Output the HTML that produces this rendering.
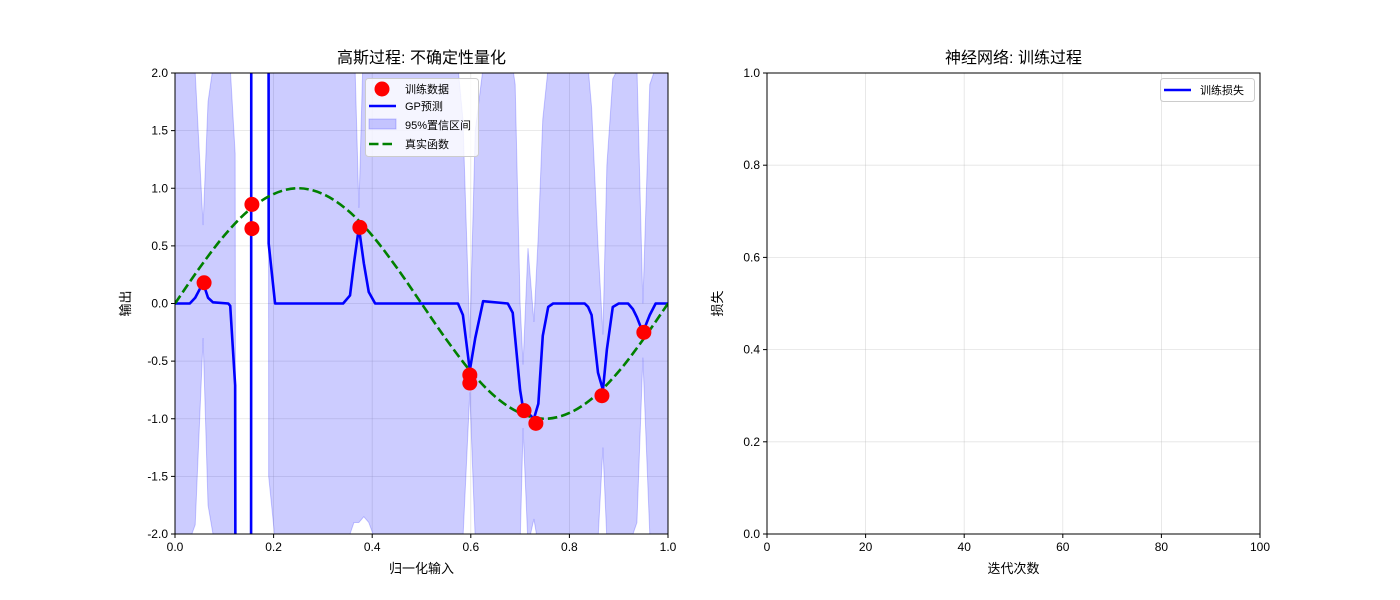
<!DOCTYPE html>
<html><head><meta charset="utf-8"><style>
html,body{margin:0;padding:0;background:#fff;overflow:hidden;width:1400px;height:600px;}
svg{display:block;}
svg text{font-family:"Liberation Sans","Noto Sans CJK SC",sans-serif;fill:#000;}
</style></head><body>
<svg id="fig" width="1400" height="600" viewBox="0 0 1400 600" xmlns="http://www.w3.org/2000/svg">
<defs>
<clipPath id="clipL"><rect x="175" y="73" width="493" height="461"/></clipPath>
</defs>
<rect width="1400" height="600" fill="#fff"/>
<g id="left"></g>
<g id="right"></g>
</svg>
<script>
// ---- GP chart data ----
const gpX =    [0,0.03,0.041,0.057,0.067,0.077,0.108,0.112,0.122,0.131,0.152,0.157,0.187,0.19,0.203,0.341,0.355,0.363,0.373,0.383,0.393,0.406,0.574,0.584,0.598,0.609,0.625,0.675,0.685,0.69,0.7,0.706,0.716,0.728,0.737,0.746,0.757,0.767,0.831,0.838,0.845,0.858,0.868,0.876,0.888,0.9,0.919,0.929,0.937,0.949,0.963,0.975,1];
const gpMean = [0,0,0.05,0.18,0.05,0.01,0,-0.02,-0.71,-30,-30,30,30,0.52,0,0,0.07,0.35,0.66,0.35,0.1,0,0,-0.1,-0.58,-0.3,0.02,0,-0.08,-0.3,-0.75,-0.91,-0.95,-1.0,-0.87,-0.28,-0.03,0,0,-0.03,-0.1,-0.6,-0.75,-0.4,-0.03,0,0,-0.05,-0.12,-0.25,-0.1,0,0];
const gpUpper =[2.05,2.05,2.0,0.68,1.75,2.05,2.05,2.05,1.3,-28,-28,32,32,2.5,2.05,2.05,2.1,2.4,0.83,2.4,2.1,2.05,2.05,1.6,-0.3,1.5,2.05,2.05,2.05,1.9,0.0,-0.53,0.48,-0.16,0.6,1.6,2.05,2.05,2.05,2.05,1.7,0.5,-0.27,1.2,1.95,2.05,2.05,2.05,2.05,0.0,1.9,2.05,2.05];
const gpLower =[-2.05,-2.05,-1.92,-0.3,-1.75,-2.0,-2.05,-2.1,-2.7,-32,-32,28,28,-1.5,-2.05,-2.05,-2.0,-1.9,-1.9,-1.85,-1.9,-2.05,-2.05,-2.05,-0.77,-2.05,-2.05,-2.05,-2.05,-2.1,-2.1,-1.08,-2.1,-1.87,-2.1,-2.1,-2.05,-2.05,-2.05,-2.05,-2.05,-2.05,-1.25,-2.05,-2.05,-2.05,-2.05,-2.0,-1.9,-0.47,-2.0,-2.05,-2.05];
const trainX = [0.059,0.156,0.156,0.375,0.598,0.598,0.708,0.732,0.866,0.951];
const trainY = [0.18,0.86,0.65,0.66,-0.62,-0.69,-0.93,-1.04,-0.80,-0.25];
const trueX = [0,0.05,0.1,0.15,0.2,0.25,0.3,0.35,0.4,0.45,0.5,0.55,0.6,0.65,0.7,0.75,0.8,0.85,0.9,0.95,1];
const trueY = [0,0.31,0.59,0.81,0.95,1,0.95,0.81,0.59,0.31,0,-0.31,-0.59,-0.81,-0.95,-1,-0.95,-0.81,-0.59,-0.31,0];
const leftXTicks = [0,0.2,0.4,0.6,0.8,1.0];
const leftXTickLabels = ["0.0","0.2","0.4","0.6","0.8","1.0"];
const leftYTicks = [2,1.5,1,0.5,0,-0.5,-1,-1.5,-2];
const leftYTickLabels = ["2.0","1.5","1.0","0.5","0.0","-0.5","-1.0","-1.5","-2.0"];
// ---- NN chart data ----
const rightXTicks = [0,20,40,60,80,100];
const rightYTicks = [0,0.2,0.4,0.6,0.8,1.0];
const rightYTickLabels = ["0.0","0.2","0.4","0.6","0.8","1.0"];

const NS="http://www.w3.org/2000/svg";
function mk(parent,tag,attrs,text){const e=document.createElementNS(NS,tag);for(const k in attrs)e.setAttribute(k,attrs[k]);if(text!==undefined)e.textContent=text;parent.appendChild(e);return e;}

const L={x0:175,x1:668,y0:534,y1:73};
const lx=v=>L.x0+(v-0)/(1-0)*(L.x1-L.x0);
const ly=v=>L.y0-(v+2)/4*(L.y0-L.y1);
const R={x0:767,x1:1260,y0:534,y1:73};
const rx=v=>R.x0+v/100*(R.x1-R.x0);
const ry=v=>R.y0-v*(R.y0-R.y1);

const gL=document.getElementById('left');
const gR=document.getElementById('right');

function axesFrame(g,A,xt,xf,yt,yf,prefix){
  xt.forEach((t,i)=>{const e=mk(g,'line',{x1:xf(t),x2:xf(t),y1:A.y0,y2:A.y1,stroke:'#b0b0b0','stroke-opacity':0.35,'stroke-width':0.8});
    
    });
  yt.forEach((t,i)=>{const e=mk(g,'line',{x1:A.x0,x2:A.x1,y1:yf(t),y2:yf(t),stroke:'#b0b0b0','stroke-opacity':0.35,'stroke-width':0.8});
    
    });
}
function axesTicks(g,A,xt,xl,xf,yt,yl,yf,title,xlabel,ylabel,prefix,cx){
  const fr=mk(g,'rect',{x:A.x0,y:A.y1,width:A.x1-A.x0,height:A.y0-A.y1,fill:'none',stroke:'#000','stroke-width':1});
  
  
  xt.forEach((t,i)=>{
    mk(g,'line',{x1:xf(t),x2:xf(t),y1:A.y0,y2:A.y0+4,stroke:'#000','stroke-width':1});
    const e=mk(g,'text',{x:xf(t),y:A.y0+17,'text-anchor':'middle','font-size':12},xl[i]);
    
    
  });
  yt.forEach((t,i)=>{
    mk(g,'line',{x1:A.x0-4,x2:A.x0,y1:yf(t),y2:yf(t),stroke:'#000','stroke-width':1});
    const e=mk(g,'text',{x:A.x0-7,y:yf(t)+4,'text-anchor':'end','font-size':12},yl[i]);
    
    
  });
  let e=mk(g,'text',{x:cx,y:63,'text-anchor':'middle','font-size':16},title);
  
  
  e=mk(g,'text',{x:cx,y:573,'text-anchor':'middle','font-size':13},xlabel);
  
  
  const yc=(A.y0+A.y1)/2;
  e=mk(g,'text',{x:A.x0-45,y:yc,'text-anchor':'middle','font-size':13,transform:`rotate(-90 ${A.x0-45} ${yc})`},ylabel);
  
  
}

// ---- Left chart ----
axesFrame(gL,L,leftXTicks,lx,leftYTicks,ly,'gp');
const clipG=mk(gL,'g',{'clip-path':'url(#clipL)'});


let bp='';
gpX.forEach((x,i)=>{bp+=(i?'L':'M')+lx(x).toFixed(2)+','+ly(gpUpper[i]).toFixed(2);});
for(let i=gpX.length-1;i>=0;i--){bp+='L'+lx(gpX[i]).toFixed(2)+','+ly(gpLower[i]).toFixed(2);}
bp+='Z';
const band=mk(clipG,'path',{d:bp,fill:'#0000ff','fill-opacity':0.2,stroke:'#0000ff','stroke-opacity':0.2,'stroke-width':1});


let mp='';
gpX.forEach((x,i)=>{mp+=(i?'L':'M')+lx(x).toFixed(2)+','+ly(gpMean[i]).toFixed(2);});
const mline=mk(clipG,'path',{d:mp,fill:'none',stroke:'#0000ff','stroke-width':2.6,'stroke-linejoin':'round'});


const tp=trueX.map((x,i)=>[lx(x),ly(trueY[i])]);
let td='M'+tp[0][0]+','+tp[0][1];
for(let i=0;i<tp.length-1;i++){
  const p0=tp[Math.max(0,i-1)],p1=tp[i],p2=tp[i+1],p3=tp[Math.min(tp.length-1,i+2)];
  const c1=[p1[0]+(p2[0]-p0[0])/6,p1[1]+(p2[1]-p0[1])/6];
  const c2=[p2[0]-(p3[0]-p1[0])/6,p2[1]-(p3[1]-p1[1])/6];
  td+=`C${c1[0].toFixed(2)},${c1[1].toFixed(2)} ${c2[0].toFixed(2)},${c2[1].toFixed(2)} ${p2[0].toFixed(2)},${p2[1].toFixed(2)}`;
}
const tline=mk(clipG,'path',{d:td,fill:'none',stroke:'#008000','stroke-width':2.6,'stroke-dasharray':'9.5,4'});


trainX.forEach((x,i)=>{
  const c=mk(gL,'circle',{cx:lx(x),cy:ly(trainY[i]),r:7.5,fill:'#ff0000'});
  
  
});
axesTicks(gL,L,leftXTicks,leftXTickLabels,lx,leftYTicks,leftYTickLabels,ly,'高斯过程: 不确定性量化','归一化输入','输出','gp',421.5);

const lg=mk(gL,'g',{});


mk(lg,'rect',{x:365.5,y:78.5,width:113,height:78,rx:3,fill:'#fff','fill-opacity':0.8,stroke:'#cccccc'});
mk(lg,'circle',{cx:382,cy:89,r:7.5,fill:'#ff0000'});
mk(lg,'line',{x1:369,x2:396,y1:106,y2:106,stroke:'#0000ff','stroke-width':2.6});
mk(lg,'rect',{x:369,y:119,width:27,height:10,fill:'#0000ff','fill-opacity':0.2,stroke:'#0000ff','stroke-opacity':0.2});
mk(lg,'line',{x1:369,x2:396,y1:144,y2:144,stroke:'#008000','stroke-width':2.6,'stroke-dasharray':'9.5,4'});
const legL=['训练数据','GP预测','95%置信区间','真实函数'];
const legY=[93,110,129,148];
legL.forEach((t,i)=>{const e=mk(lg,'text',{x:405,y:legY[i],'font-size':11},t);
  
  });

// ---- Right chart ----
axesFrame(gR,R,rightXTicks,rx,rightYTicks,ry,'nn');
axesTicks(gR,R,rightXTicks,rightXTicks.map(String),rx,rightYTicks,rightYTickLabels,ry,'神经网络: 训练过程','迭代次数','损失','nn',1013.5);
const rg=mk(gR,'g',{});


mk(rg,'rect',{x:1160.5,y:78.5,width:94,height:23,rx:3,fill:'#fff','fill-opacity':0.8,stroke:'#cccccc'});
mk(rg,'line',{x1:1164,x2:1191,y1:90,y2:90,stroke:'#0000ff','stroke-width':2.6});
const rt=mk(rg,'text',{x:1200,y:94,'font-size':11},'训练损失');


</script>
</body></html>
